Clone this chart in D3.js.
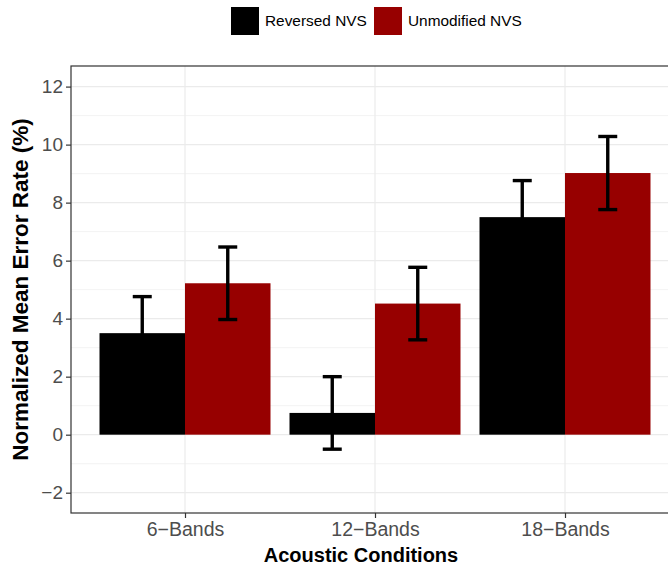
<!DOCTYPE html>
<html>
<head>
<meta charset="utf-8">
<script src="https://cdn.jsdelivr.net/npm/d3@7/dist/d3.min.js"></script>
<style>
  html, body { margin: 0; padding: 0; background: #fff; }
  svg { display: block; font-family: "Liberation Sans", Arial, Helvetica, sans-serif; }
</style>
</head>
<body>
<svg id="chart" width="668" height="566"></svg>
<script>
// Acoustic conditions along the x axis
const categories = ["6\u2212Bands", "12\u2212Bands", "18\u2212Bands"];
// Series shown side by side in each condition
const seriesNames = ["Reversed NVS", "Unmodified NVS"];
const seriesColors = ["#000000", "#970000"];
// Mean error rate (%) per condition, and its standard error
const reversedMean = [3.5, 0.75, 7.5];
const reversedSE = [1.26, 1.25, 1.26];
const unmodifiedMean = [5.22, 4.52, 9.02];
const unmodifiedSE = [1.25, 1.25, 1.26];
// Y axis ticks
const yMajorTicks = [-2, 0, 2, 4, 6, 8, 10, 12];
const yMinorTicks = [-1, 1, 3, 5, 7, 9, 11];

const svg = d3.select("#chart");
const panel = { left: 71, right: 679, top: 66, bottom: 513 };

const x = d3.scalePoint().domain(categories)
  .range([panel.left, panel.right]).padding(0.6);
const step = x.step();
const xInner = d3.scaleBand().domain(seriesNames)
  .range([-0.45 * step, 0.45 * step]);
const y = d3.scaleLinear().domain([-2.7, 12.71]).range([panel.bottom, panel.top]);

const rows = [];
categories.forEach((c, i) => {
  rows.push({ cat: c, series: seriesNames[0], mean: reversedMean[i], se: reversedSE[i] });
  rows.push({ cat: c, series: seriesNames[1], mean: unmodifiedMean[i], se: unmodifiedSE[i] });
});
const color = d3.scaleOrdinal().domain(seriesNames).range(seriesColors);

// panel clip and grid
svg.append("clipPath").attr("id", "panelClip").append("rect")
  .attr("x", panel.left).attr("y", panel.top)
  .attr("width", panel.right - panel.left).attr("height", panel.bottom - panel.top);

const grid = svg.append("g").attr("clip-path", "url(#panelClip)");
grid.selectAll("line.minor").data(yMinorTicks).join("line")
  .attr("x1", panel.left).attr("x2", panel.right)
  .attr("y1", d => y(d)).attr("y2", d => y(d))
  .attr("stroke", "#EBEBEB").attr("stroke-width", 0.6);
grid.selectAll("line.majorY").data(yMajorTicks).join("line")
  .attr("x1", panel.left).attr("x2", panel.right)
  .attr("y1", d => y(d)).attr("y2", d => y(d))
  .attr("stroke", "#EBEBEB").attr("stroke-width", 1.2);
grid.selectAll("line.majorX").data(categories).join("line")
  .attr("x1", d => x(d)).attr("x2", d => x(d))
  .attr("y1", panel.top).attr("y2", panel.bottom)
  .attr("stroke", "#EBEBEB").attr("stroke-width", 1.2);

// bars
const plot = svg.append("g").attr("clip-path", "url(#panelClip)");
plot.selectAll("rect.bar").data(rows).join("rect")
  .attr("x", d => x(d.cat) + xInner(d.series))
  .attr("width", xInner.bandwidth())
  .attr("y", d => y(Math.max(0, d.mean)))
  .attr("height", d => Math.abs(y(d.mean) - y(0)))
  .attr("fill", d => color(d.series));

// error bars
const capHalf = 0.05 * step;
const eb = plot.selectAll("g.err").data(rows).join("g")
  .attr("transform", d => `translate(${x(d.cat) + xInner(d.series) + xInner.bandwidth() / 2},0)`)
  .attr("stroke", "#000").attr("stroke-width", 3.4).attr("fill", "none");
eb.append("line").attr("x1", 0).attr("x2", 0)
  .attr("y1", d => y(d.mean - d.se)).attr("y2", d => y(d.mean + d.se));
eb.append("line").attr("x1", -capHalf).attr("x2", capHalf)
  .attr("y1", d => y(d.mean + d.se)).attr("y2", d => y(d.mean + d.se));
eb.append("line").attr("x1", -capHalf).attr("x2", capHalf)
  .attr("y1", d => y(d.mean - d.se)).attr("y2", d => y(d.mean - d.se));

// panel border
svg.append("rect")
  .attr("x", panel.left).attr("y", panel.top)
  .attr("width", panel.right - panel.left).attr("height", panel.bottom - panel.top)
  .attr("fill", "none").attr("stroke", "#333333").attr("stroke-width", 1.2);

// axes
const yAxis = d3.axisLeft(y).tickValues(yMajorTicks)
  .tickFormat(d => d < 0 ? "\u2212" + Math.abs(d) : String(d))
  .tickSize(5).tickPadding(3);
const gy = svg.append("g").attr("transform", `translate(${panel.left},0)`).call(yAxis);
gy.select(".domain").remove();
gy.selectAll(".tick line").attr("stroke", "#333333").attr("stroke-width", 1.2);
gy.selectAll(".tick text").attr("fill", "#4D4D4D").attr("font-size", 19)
  .attr("font-family", "Liberation Sans, Arial, sans-serif");

const xAxis = d3.axisBottom(x).tickSize(5).tickPadding(4);
const gx = svg.append("g").attr("transform", `translate(0,${panel.bottom})`).call(xAxis);
gx.select(".domain").remove();
gx.selectAll(".tick line").attr("stroke", "#333333").attr("stroke-width", 1.2);
gx.selectAll(".tick text").attr("fill", "#4D4D4D").attr("font-size", 19.5)
  .attr("font-family", "Liberation Sans, Arial, sans-serif");

// axis titles
svg.append("text")
  .attr("x", 361).attr("y", 562)
  .attr("text-anchor", "middle").attr("font-weight", "bold").attr("font-size", 20)
  .attr("fill", "#000").text("Acoustic Conditions");
svg.append("text")
  .attr("transform", `translate(28,${(panel.top + panel.bottom) / 2}) rotate(-90)`)
  .attr("text-anchor", "middle").attr("font-weight", "bold").attr("font-size", 22.5)
  .attr("fill", "#000").text("Normalized Mean Error Rate (%)");

// legend
const legendX = [231, 374];
const lg = svg.append("g").selectAll("g").data(seriesNames).join("g")
  .attr("transform", (d, i) => `translate(${legendX[i]},7)`);
lg.append("rect").attr("width", 28).attr("height", 28).attr("fill", d => color(d));
lg.append("text").attr("x", 34).attr("y", 14).attr("dy", "0.35em")
  .attr("font-size", 15.4).attr("fill", "#000").text(d => d);
</script>
</body>
</html>
